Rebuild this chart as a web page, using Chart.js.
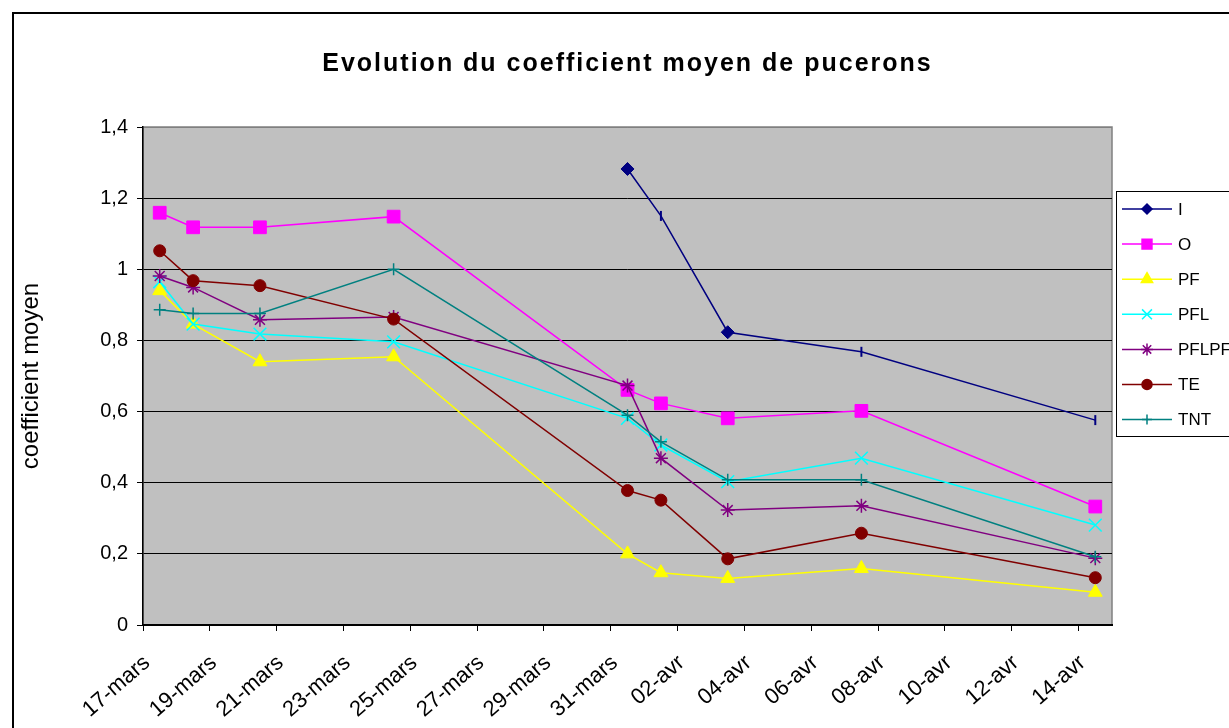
<!DOCTYPE html>
<html>
<head>
<meta charset="utf-8">
<script src="https://cdn.jsdelivr.net/npm/chart.js@4.4.1/dist/chart.umd.min.js"></script>
<style>html,body{margin:0;padding:0;background:#fff;overflow:hidden}</style>
</head>
<body>
<canvas id="c" width="1229" height="728"></canvas>
<script>
// data
const titleText = 'Evolution du coefficient moyen de pucerons';
const yTitle = 'coefficient moyen';
const startDate = '2009-03-17';
const dates = ['2009-03-17','2009-03-18','2009-03-20','2009-03-24','2009-03-31','2009-04-01','2009-04-03','2009-04-07','2009-04-14'];
const xTickLabels = ['17-mars','19-mars','21-mars','23-mars','25-mars','27-mars','29-mars','31-mars','02-avr','04-avr','06-avr','08-avr','10-avr','12-avr','14-avr'];
const seriesNames = ['I','O','PF','PFL','PFLPF','TE','TNT'];
const I     = [null, null, null, null, 1.282, 1.150, 0.823, 0.768, 0.576];
const O     = [1.159, 1.118, 1.118, 1.148, 0.661, 0.623, 0.581, 0.602, 0.333];
const PF    = [0.940, 0.846, 0.740, 0.754, 0.200, 0.147, 0.131, 0.159, 0.092];
const PFL   = [0.965, 0.846, 0.818, 0.796, 0.581, 0.506, 0.403, 0.469, 0.281];
const PFLPF = [0.981, 0.949, 0.858, 0.866, 0.673, 0.469, 0.323, 0.335, 0.188];
const TE    = [1.052, 0.968, 0.954, 0.860, 0.378, 0.351, 0.186, 0.258, 0.133];
const TNT   = [0.886, 0.876, 0.876, 1.000, 0.590, 0.515, 0.408, 0.408, 0.192];

const FONT = '"Liberation Sans", Arial, sans-serif';

// excel puts each point in the middle of its day slot
const dayOf = d => (Date.parse(d) - Date.parse(startDate)) / 86400000;
const xs = dates.map(d => dayOf(d) + 0.5);
const pts = vals => vals.map((v, i) => ({x: xs[i], y: v}));

const colors = ['#000080','#ff00ff','#ffff00','#00ffff','#800080','#800000','#008080'];
const styles = ['rectRot','rect','triangle','crossRot','star','circle','cross'];
const radii  = [6.5, 9, 8, 9, 7, 6, 6];
const legendRadii = [5, 7, 6.5, 7, 6, 5, 5];

const allValues = [I, O, PF, PFL, PFLPF, TE, TNT];
const datasets = seriesNames.map((name, i) => ({
  label: name,
  data: pts(allValues[i]),
  borderColor: colors[i],
  backgroundColor: colors[i],
  borderWidth: 1.5,
  pointStyle: styles[i],
  pointRadius: radii[i],
  pointBorderWidth: ['crossRot','star','cross'].includes(styles[i]) ? 1.5 : 1,
  order: seriesNames.length - i,
  legendStyle: styles[i],
  legendRadius: legendRadii[i]
}));
// the I series uses short vertical dashes on some dates
datasets[0].pointStyle = ['rectRot','rectRot','rectRot','rectRot','rectRot','line','rectRot','line','line'];
datasets[0].pointRotation = [0,0,0,0,0,90,0,90,90];
datasets[0].pointRadius = [6.5,6.5,6.5,6.5,6.5,5,6.5,5,5];
datasets[0].pointBorderWidth = [1,1,1,1,1,2,1,2,2];

const frame = {
  id: 'frame',
  beforeDraw(chart) {
    const {ctx, chartArea: a} = chart;
    ctx.save();
    ctx.fillStyle = '#fff';
    ctx.fillRect(0, 0, chart.width, chart.height);
    ctx.strokeStyle = '#000';
    ctx.lineWidth = 2;
    ctx.strokeRect(13, 13, chart.width + 20, chart.height + 20);
    ctx.fillStyle = '#c0c0c0';
    ctx.fillRect(a.left, a.top, a.right - a.left, a.bottom - a.top);
    ctx.strokeStyle = '#808080';
    ctx.lineWidth = 1.5;
    ctx.strokeRect(a.left, a.top, a.right - a.left, a.bottom - a.top);
    ctx.restore();
  },
  afterDraw(chart) {
    const {ctx, chartArea: a} = chart;
    ctx.save();
    // title
    ctx.font = 'bold 25px ' + FONT;
    ctx.letterSpacing = '2px';
    ctx.fillStyle = '#000';
    ctx.textAlign = 'center';
    ctx.textBaseline = 'middle';
    ctx.fillText(titleText, (a.left + a.right) / 2, 64);
    ctx.letterSpacing = '0px';

    // legend box, cut by the right edge like the reference
    ctx.fillStyle = '#fff';
    ctx.fillRect(1116, 191, 200, 246);
    ctx.strokeStyle = '#000';
    ctx.lineWidth = 1;
    ctx.strokeRect(1116.5, 191.5, 200, 245);
    ctx.font = '17px ' + FONT;
    ctx.textAlign = 'left';
    chart.data.datasets.forEach((ds, i) => {
      const y = 209 + i * 35.1;
      ctx.strokeStyle = ds.borderColor;
      ctx.fillStyle = ds.backgroundColor;
      ctx.lineWidth = 1.5;
      ctx.beginPath();
      ctx.moveTo(1122, y);
      ctx.lineTo(1172, y);
      ctx.stroke();
      Chart.helpers.drawPoint(ctx, {pointStyle: ds.legendStyle, radius: ds.legendRadius, rotation: 0, borderWidth: 1.5}, 1147, y);
      ctx.fillStyle = '#000';
      ctx.fillText(ds.label, 1178, y + 1);
    });
    ctx.restore();
  }
};

new Chart(document.getElementById('c'), {
  type: 'line',
  data: {datasets},
  options: {
    responsive: false,
    animation: false,
    layout: {padding: {top: 127, right: 117, left: 0, bottom: 0}},
    elements: {line: {tension: 0}},
    plugins: {legend: {display: false}, tooltip: {enabled: false}},
    scales: {
      x: {
        type: 'linear', min: 0, max: 29,
        afterFit(s) { s.height = 103; },
        ticks: {
          stepSize: 2, includeBounds: false, autoSkip: false,
          maxRotation: 41, minRotation: 41, padding: 19, labelOffset: 4,
          color: '#000', font: {family: FONT, size: 22},
          callback: v => xTickLabels[v / 2]
        },
        grid: {drawOnChartArea: false, drawTicks: true, tickLength: 6, color: '#000'},
        border: {color: '#000', width: 2}
      },
      y: {
        min: 0, max: 1.4,
        afterFit(s) { s.width = 143; },
        ticks: {
          stepSize: 0.2, padding: 9, color: '#000', font: {family: FONT, size: 20},
          callback: v => String(Math.round(v * 10) / 10).replace('.', ',')
        },
        grid: {
          color: c => (c.tick && c.tick.value > 1.39) ? '#808080' : '#000',
          tickColor: '#000', tickLength: 6, lineWidth: 1
        },
        border: {color: '#000', width: 1.5},
        title: {display: true, text: yTitle, color: '#000', font: {family: FONT, size: 24}, padding: {top: 17, bottom: 0}}
      }
    }
  },
  plugins: [frame]
});
</script>
</body>
</html>
